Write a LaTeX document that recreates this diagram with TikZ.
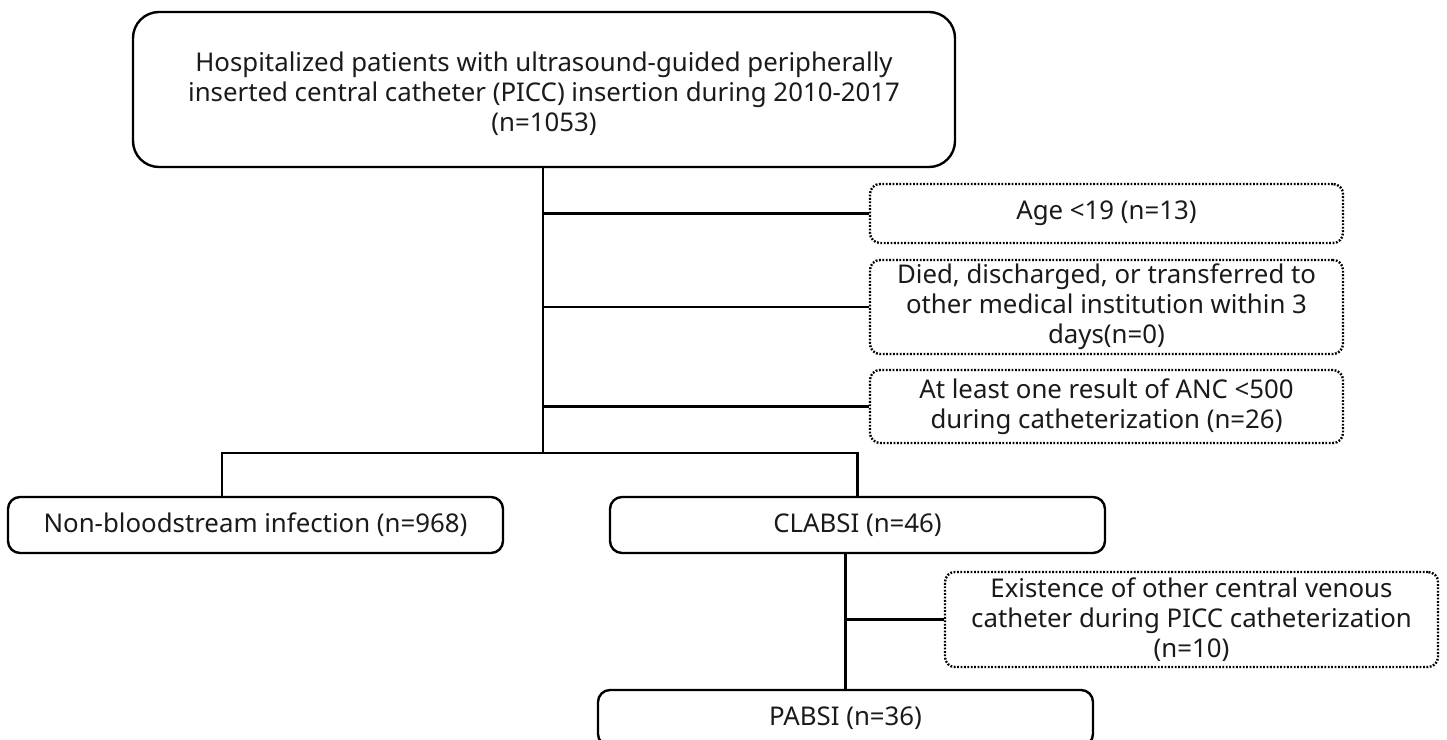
\documentclass[tikz,border=0pt]{standalone}
\usepackage{fontspec}
\setmainfont{Noto Sans}
\definecolor{txt}{HTML}{1A1A1A}
\begin{document}
\begin{tikzpicture}[x=1pt,y=-1pt,
  every node/.style={font=\fontsize{25.8}{30}\selectfont, text=txt, align=center, inner sep=0pt},
  solidbox/.style={draw=black, line width=2.4pt, rounded corners=12pt},
  dotbox/.style={draw=black, line width=2.4pt, dash pattern=on 1.8pt off 1.6pt, rounded corners=10pt},
  conn/.style={draw=black, line width=2.4pt}]
\useasboundingbox (0,0) rectangle (1447,739);
\clip (0,0) rectangle (1447,739);
\node[solidbox, rounded corners=26pt, minimum width=822pt, minimum height=155pt] (top) at (544,89.5)
  {\raisebox{-6pt}[\height][\depth]{\begin{tabular}{@{}c@{}}Hospitalized patients with ultrasound-guided peripherally\\inserted central catheter (PICC) insertion during 2010-2017\\(n=1053)\end{tabular}}};
\node[dotbox, minimum width=473pt, minimum height=59pt] (e1) at (1106.5,213.5) {Age {<}19 (n=13)};
\node[dotbox, minimum width=473pt, minimum height=94pt] (e2) at (1106.5,307)
  {Died, discharged, or transferred to\\other medical institution within 3\\days(n=0)};
\node[dotbox, minimum width=473pt, minimum height=73pt] (e3) at (1106.5,406.5)
  {At least one result of ANC {<}500\\during catheterization (n=26)};
\node[solidbox, minimum width=495pt, minimum height=56pt] (nb) at (255.5,525) {Non-bloodstream infection (n=968)};
\node[solidbox, minimum width=495pt, minimum height=56pt] (cl) at (857.5,525) {CLABSI (n=46)};
\node[dotbox, minimum width=493pt, minimum height=95pt] (e4) at (1191.5,619.5)
  {Existence of other central venous\\catheter during PICC catheterization\\(n=10)};
\node[solidbox, minimum width=495pt, minimum height=56pt] (pab) at (845.5,718) {PABSI (n=36)};
\coordinate (j) at (543,453);
\coordinate (nbt) at (222,497);
\draw[conn] (top.south -| j) -- (j);
\draw[conn] (j |- e1.west) -- (e1.west);
\draw[conn] (j |- e2.west) -- (e2.west);
\draw[conn] (j |- e3.west) -- (e3.west);
\draw[conn] (nbt) |- (j) -| (cl.north);
\draw[conn] (pab.north |- cl.south) -- (pab.north);
\draw[conn] (pab.north |- e4.west) -- (e4.west);
\end{tikzpicture}
\end{document}
